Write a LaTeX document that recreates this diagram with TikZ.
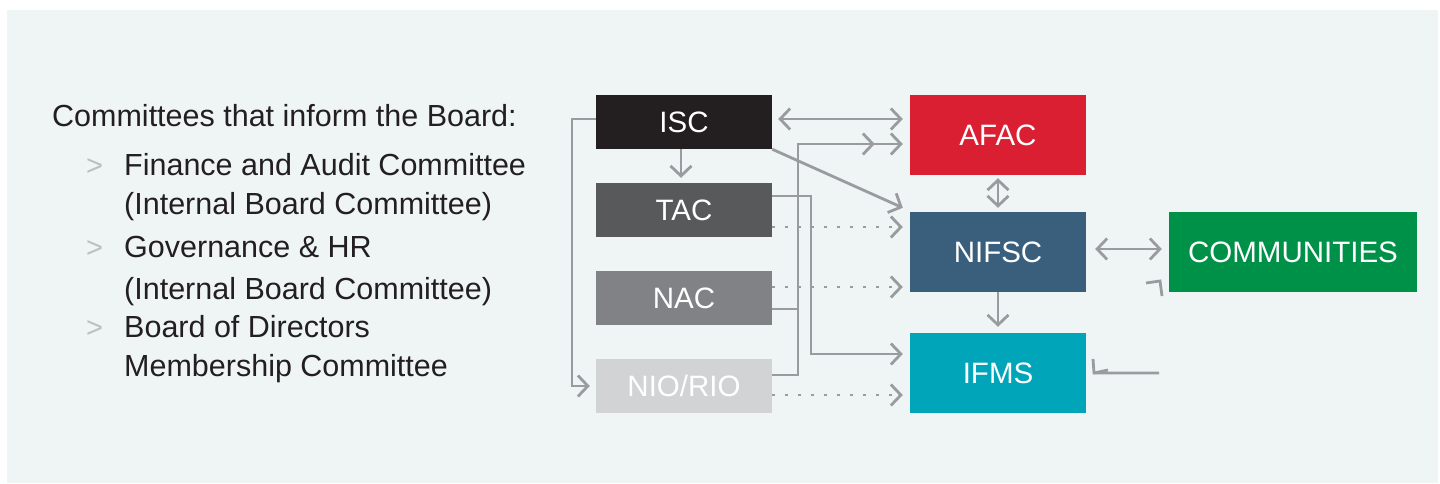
\documentclass[tikz,border=0pt]{standalone}
\usepackage{fontspec}
\setmainfont{Liberation Sans}
\usetikzlibrary{arrows.meta}
\definecolor{bg}{HTML}{EFF5F5}
\definecolor{linegray}{HTML}{9A9B9E}
\definecolor{bulletgray}{HTML}{BCBEC0}
\definecolor{txt}{HTML}{231F20}
\definecolor{cISC}{HTML}{231F20}
\definecolor{cTAC}{HTML}{58595B}
\definecolor{cNAC}{HTML}{808285}
\definecolor{cNIO}{HTML}{D1D3D4}
\definecolor{cAFAC}{HTML}{DA1F33}
\definecolor{cNIFSC}{HTML}{3A5F7C}
\definecolor{cIFMS}{HTML}{00A5B9}
\definecolor{cCOMM}{HTML}{009149}
\begin{document}
\begin{tikzpicture}[x=1pt,y=-1pt,
  box/.style={rectangle, minimum width=176pt, minimum height=54pt, inner sep=0pt,
    text=white, font=\fontsize{29.5}{34}\selectfont},
  bigbox/.style={box, minimum height=80pt},
  conn/.style={draw=linegray, line width=2.8pt},
  tipA/.style={-{Straight Barb[length=10pt,width=21pt]}},
  tipB/.style={{Straight Barb[length=10pt,width=21pt]}-{Straight Barb[length=10pt,width=21pt]}},
  dotline/.style={conn, dash pattern=on 3pt off 10pt},
  lefttext/.style={anchor=base west, text=txt, inner sep=0pt,
    font=\fontsize{30.5}{36}\selectfont},
  bullet/.style={anchor=base west, text=bulletgray, inner sep=0pt,
    font=\fontsize{29}{34}\selectfont}
]
\useasboundingbox (0,0) rectangle (1440,483);
\fill[bg] (7,10) rectangle (1438,483);

% left text
\node[lefttext] (head) at (52,126) {Committees that inform the Board:};
\node[bullet] (b1) at (86,175) {>};
\node[lefttext] (t1a) at (124,175) {Finance and Audit Committee};
\node[lefttext] (t1b) at (124,214) {(Internal Board Committee)};
\node[bullet] (b2) at (86,257) {>};
\node[lefttext] (t2a) at (124,257) {Governance \& HR};
\node[lefttext] (t2b) at (124,299) {(Internal Board Committee)};
\node[bullet] (b3) at (86,337) {>};
\node[lefttext] (t3a) at (124,337) {Board of Directors};
\node[lefttext] (t3b) at (124,376) {Membership Committee};

% boxes
\node[box, fill=cISC] (ISC) at (684,122) {ISC};
\node[box, fill=cTAC] (TAC) at (684,210) {TAC};
\node[box, fill=cNAC] (NAC) at (684,298) {NAC};
\node[box, fill=cNIO] (NIO) at (684,386) {NIO/RIO};
\node[bigbox, fill=cAFAC] (AFAC) at (998,135) {AFAC};
\node[bigbox, fill=cNIFSC] (NIFSC) at (998,252) {NIFSC};
\node[bigbox, fill=cIFMS] (IFMS) at (998,373) {IFMS};
\node[bigbox, fill=cCOMM, minimum width=248pt] (COMM) at (1293,252) {COMMUNITIES};

% bus coordinates
\coordinate (busA) at (798,144);
\coordinate (busB) at (811,196);
\coordinate (loopL) at (572,119);

% ISC <-> AFAC
\draw[conn, tipB] ([xshift=6pt,yshift=3pt]ISC.east) -- ([xshift=-7pt,yshift=16pt]AFAC.west);
% ISC -> TAC
\draw[conn, tipA] ([xshift=-3pt]ISC.south) -- ([xshift=-3pt,yshift=5pt]TAC.north);
% ISC -> NIFSC
\draw[conn, tipA] (ISC.south east) -- ([xshift=-7pt,yshift=4pt]NIFSC.north west);
% ISC -> NIO/RIO loop
\coordinate (iscW) at ([yshift=3pt]ISC.west);
\draw[conn, tipA] (iscW) -- (loopL) |- ([xshift=-6pt]NIO.west);
% NAC, NIO/RIO -> AFAC
\coordinate (nacOut) at ([yshift=-11pt]NAC.east);
\coordinate (nioOut) at ([yshift=11pt]NIO.east);
\draw[conn] (nacOut) -- (nacOut -| busA);
\draw[conn, tipA] (nioOut) -| (busA) -- ([xshift=-7pt,yshift=-9pt]AFAC.west);
\draw[conn, tipA] (busA) -- ([xshift=-35pt,yshift=-9pt]AFAC.west);
% TAC -> IFMS
\coordinate (tacOut) at ([yshift=14pt]TAC.east);
\coordinate (ifmsIn) at ([xshift=-7pt,yshift=19pt]IFMS.west);
\draw[conn, tipA] (tacOut) -- (busB) |- (ifmsIn);
% dotted
\coordinate (tacD) at ([yshift=-17pt]TAC.east);
\coordinate (nacD) at ([yshift=11pt]NAC.east);
\coordinate (nioD) at ([yshift=-9pt]NIO.east);
\coordinate (nifW) at ([xshift=-7pt]NIFSC.west);
\coordinate (ifmW) at ([xshift=-7pt]IFMS.west);
\draw[dotline, tipA] (tacD) -- (tacD -| nifW);
\draw[dotline, tipA] (nacD) -- (nacD -| nifW);
\draw[dotline, tipA] (nioD) -- (nioD -| ifmW);
% right column
\draw[conn, tipB] ([yshift=-3pt]AFAC.south) -- ([yshift=4pt]NIFSC.north);
\draw[conn, tipA] (NIFSC.south) -- ([yshift=6pt]IFMS.north);
\draw[conn, tipB] ([xshift=9pt,yshift=3pt]NIFSC.east) -- ([xshift=-7pt,yshift=3pt]COMM.west);
% stray fragments
\coordinate (fa1) at (1146,283);
\coordinate (fa2) at (1160,281);
\coordinate (fa3) at (1162,296);
\draw[conn] (fa1) -- (fa2) -- (fa3);
\coordinate (fb1) at (1093,359);
\coordinate (fb2) at (1094,373);
\coordinate (fb3) at (1159,373);
\coordinate (fb4) at (1108,370);
\draw[conn] (fb1) -- (fb2) -- (fb3);
\draw[conn] (fb2) -- (fb4);
\end{tikzpicture}
\end{document}
